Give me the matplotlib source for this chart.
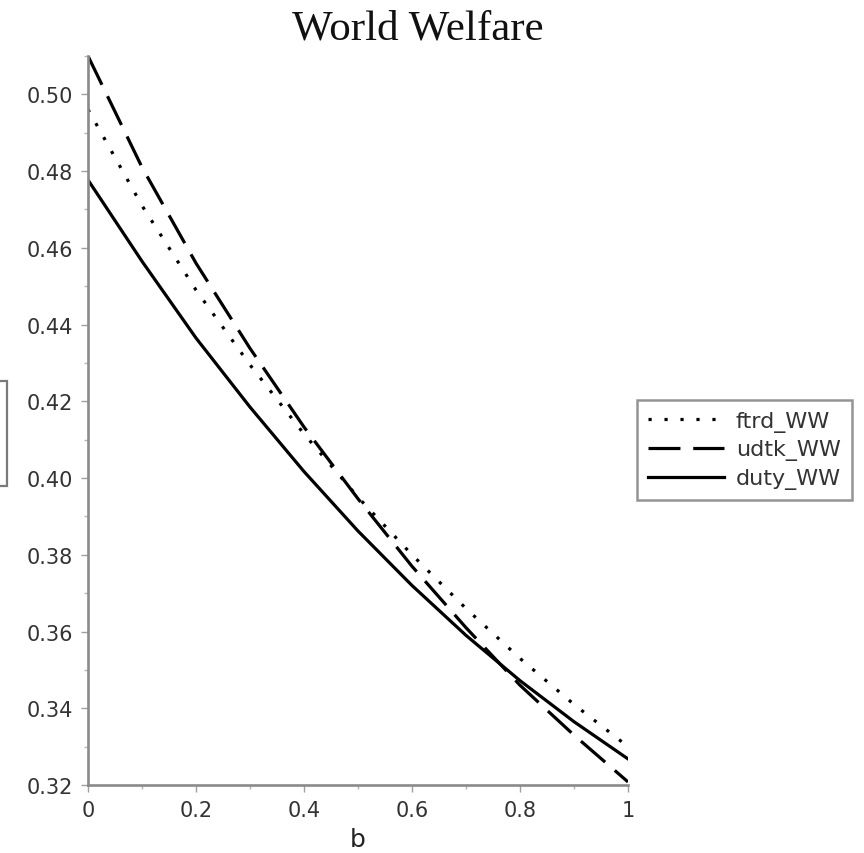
import numpy as np
import matplotlib
matplotlib.use("Agg")
from matplotlib import pyplot as plt
from matplotlib.patches import Rectangle
from matplotlib.ticker import MultipleLocator, FuncFormatter

# values
b = [0.0, 0.1, 0.2, 0.3, 0.4, 0.5, 0.6, 0.7, 0.8, 0.9, 1.0]
ftrd_WW = [0.4961, 0.4710, 0.4490, 0.4295, 0.4115, 0.3950, 0.3800, 0.3660, 0.3530, 0.3410, 0.3300]
udtk_WW = [0.5100, 0.4810, 0.4560, 0.4338, 0.4133, 0.3946, 0.3770, 0.3610, 0.3460, 0.3330, 0.3208]
duty_WW = [0.4777, 0.4565, 0.4365, 0.4185, 0.4017, 0.3862, 0.3720, 0.3590, 0.3472, 0.3365, 0.3268]

xticks = [0, 0.2, 0.4, 0.6, 0.8, 1]
yticks = [0.32, 0.34, 0.36, 0.38, 0.40, 0.42, 0.44, 0.46, 0.48, 0.50]

W, H = 864, 854
fig = plt.figure(figsize=(W / 100, H / 100), dpi=100)
ax = fig.add_axes([88 / W, 1 - 786 / H, (628 - 88) / W, (786 - 57) / H])

lw = 2.3
ax.plot(b, ftrd_WW, color="black", lw=lw, linestyle=(0, (1, 4)), label="ftrd_WW")
ax.plot(b, udtk_WW, color="black", lw=lw, linestyle=(0, (10, 4)), label="udtk_WW")
ax.plot(b, duty_WW, color="black", lw=lw, linestyle="-", label="duty_WW")

ax.set_xlim(0, 1)
ax.set_ylim(0.32, 0.51)

for side in ["top", "right"]:
    ax.spines[side].set_visible(False)
for side in ["left", "bottom"]:
    ax.spines[side].set_color("#8a8a8a")
    ax.spines[side].set_linewidth(1.9)

ax.set_xticks(xticks)
ax.set_yticks(yticks)
ax.xaxis.set_minor_locator(MultipleLocator(0.1))
ax.yaxis.set_minor_locator(MultipleLocator(0.01))
ax.xaxis.set_major_formatter(FuncFormatter(lambda v, p: "%g" % v))
ax.yaxis.set_major_formatter(FuncFormatter(lambda v, p: "%.2f" % v))
ax.tick_params(which="major", length=5, width=1, color="#a0a0a0",
               labelsize=15, labelcolor="#333333", pad=6)
ax.tick_params(which="minor", length=3, width=1, color="#b5b5b5")

ax.set_xlabel("b", fontsize=18, color="#222222", labelpad=5)

fig.text(418 / W, 1 - 39 / H, "World Welfare", family="Liberation Serif",
         fontsize=31, ha="center", va="baseline", color="#111111")

# cut-off y-label box at the left edge
fig.patches.append(Rectangle((-20 / W, 1 - 487 / H), 27 / W, 105 / H,
                             transform=fig.transFigure, fill=False,
                             edgecolor="#7a7a7a", lw=1.6))

leg = fig.legend(loc="center left", bbox_to_anchor=(637 / W, 1 - 451 / H),
                 fontsize=16, frameon=True, fancybox=False, handlelength=3.4,
                 handletextpad=0.55, borderpad=0.5, labelspacing=0.35,
                 borderaxespad=0)
leg.get_frame().set_edgecolor("#7a7a7a")
leg.get_frame().set_linewidth(1.8)
for t in leg.get_texts():
    t.set_color("#333333")

plt.savefig("out.png", dpi=100)
